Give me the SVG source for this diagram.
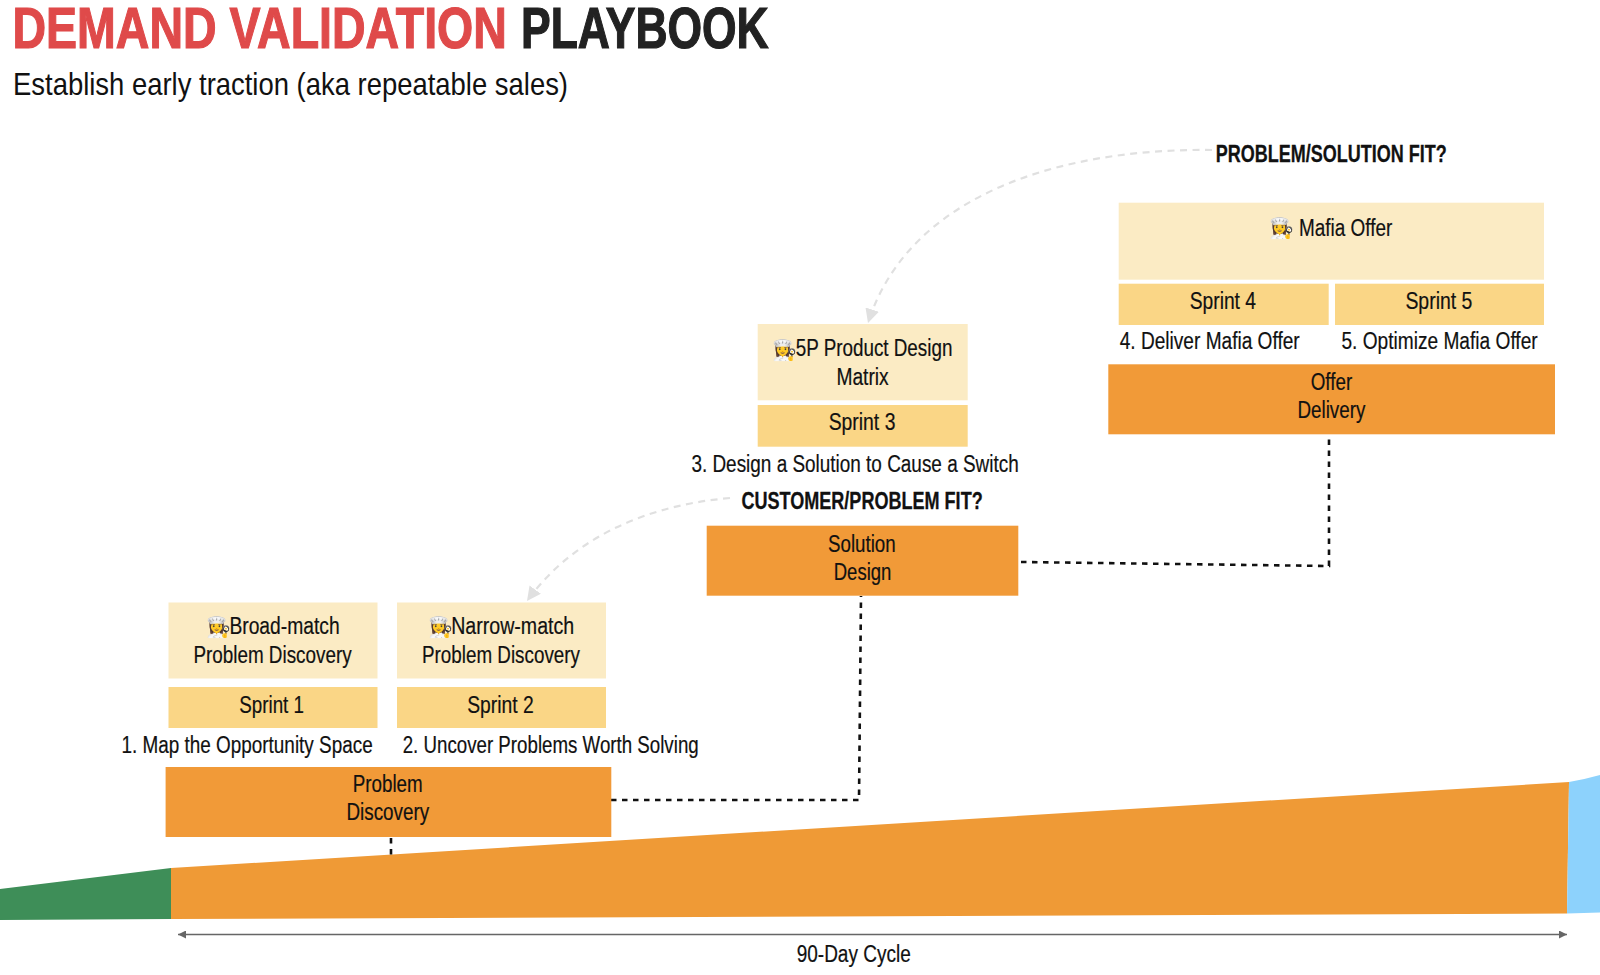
<svg xmlns="http://www.w3.org/2000/svg" width="1600" height="975" viewBox="0 0 1600 975">
<style>
text{font-family:"Liberation Sans",Arial,sans-serif;fill:#111}
.l{font-size:23.5px;stroke:#111;stroke-width:.2px;transform:translate(-.3px,.1px)}
.b{font-size:23.5px;font-weight:700;stroke:#111;stroke-width:.3px;transform:translate(-.3px,.1px)}
.e{font-size:20px;font-family:"Noto Color Emoji","Apple Color Emoji","DejaVu Sans","Noto Sans",sans-serif}
.title{font-size:58px;font-weight:700;stroke-width:1.2px}
.pale{fill:#FBEBC4}.sp{fill:#FAD686}.or{fill:#F19A38}
.dot{fill:none;stroke:#111;stroke-width:2.6;stroke-dasharray:5.5 5.5}
.soft{fill:none;stroke:#E0E0E0;stroke-width:2.2;stroke-dasharray:7 5.5}
.cyc{fill:none;stroke:#666;stroke-width:1.6}
</style>
<defs>
<marker id="g" markerUnits="userSpaceOnUse" markerWidth="16" markerHeight="16" refX="14" refY="7" orient="auto"><path d="M0 0L14 7L0 14Z" fill="#E0E0E0"/></marker>
<marker id="c" markerUnits="userSpaceOnUse" markerWidth="10" markerHeight="10" refX="8" refY="4" orient="auto"><path d="M0 0L8 4L0 8Z" fill="#666"/></marker>
<marker id="cs" markerUnits="userSpaceOnUse" markerWidth="10" markerHeight="10" refX="0" refY="4" orient="auto"><path d="M8 0L0 4L8 8Z" fill="#666"/></marker>
</defs>
<g id="header">
<text class="title" transform="translate(12.5 48) scale(.802 1)" style="fill:#DF4A4A;stroke:#DF4A4A">DEMAND VALIDATION</text>
<text class="title" transform="translate(521 48) scale(.766 1)" style="fill:#222;stroke:#222">PLAYBOOK</text>
<text x="13" y="95" style="font-size:32px" textLength="555" lengthAdjust="spacingAndGlyphs">Establish early traction (aka repeatable sales)</text>
</g>
<g id="ramp">
<path d="M0 889L171 868L171 919L0 920Z" fill="#3E8E58"/>
<path d="M171 868L1569 782L1567 913.5L171 919Z" fill="#EF9A36"/>
<path d="M1569 782Q1586 779 1600 775L1600 912.5L1567 913.5Z" fill="#8DD2FC"/>
</g>
<g id="connectors">
<path class="dot" d="M391 838V856"/>
<path class="dot" d="M611 800H859L861 596"/>
<path class="dot" d="M1021 562L1329 566V436"/>
<path class="soft" d="M1212 150C1070 148 910 190 868 323" marker-end="url(#g)"/>
<path class="soft" d="M730 498C650 505 575 535 527 601" marker-end="url(#g)"/>
<path class="cyc" d="M178 934.5H1567" marker-start="url(#cs)" marker-end="url(#c)"/>
</g>
<g id="broad-match"><rect class="pale" x="168.5" y="602.5" width="209" height="76"/><text class="e" x="206" y="634">👩‍🍳</text><text class="l" x="229.7" y="634.3" textLength="110.3" lengthAdjust="spacingAndGlyphs">Broad-match</text><text class="l" x="193.7" y="662.7" textLength="158.3" lengthAdjust="spacingAndGlyphs">Problem Discovery</text></g>
<g id="narrow-match"><rect class="pale" x="397" y="602.5" width="209" height="76"/><text class="e" x="428" y="634">👩‍🍳</text><text class="l" x="451.5" y="634.3" textLength="123" lengthAdjust="spacingAndGlyphs">Narrow-match</text><text class="l" x="422.3" y="662.7" textLength="158" lengthAdjust="spacingAndGlyphs">Problem Discovery</text></g>
<g id="sprint-1"><rect class="sp" x="168.5" y="687" width="209" height="41"/><text class="l" x="239.6" y="713" textLength="64.7" lengthAdjust="spacingAndGlyphs">Sprint 1</text></g>
<g id="sprint-2"><rect class="sp" x="397" y="687" width="209" height="41"/><text class="l" x="467.5" y="713" textLength="66.5" lengthAdjust="spacingAndGlyphs">Sprint 2</text></g>
<g id="step-1"><text class="l" x="121.7" y="752.7" textLength="251.3" lengthAdjust="spacingAndGlyphs">1. Map the Opportunity Space</text></g>
<g id="step-2"><text class="l" x="403" y="752.7" textLength="296" lengthAdjust="spacingAndGlyphs">2. Uncover Problems Worth Solving</text></g>
<g id="problem-discovery"><rect class="or" x="165.6" y="767" width="445.7" height="70"/><text class="l" x="353" y="791.7" textLength="70" lengthAdjust="spacingAndGlyphs">Problem</text><text class="l" x="346.7" y="820" textLength="82.8" lengthAdjust="spacingAndGlyphs">Discovery</text></g>
<g id="product-matrix"><rect class="pale" x="757.7" y="324" width="210" height="76.3"/><text class="e" x="772.5" y="356.5">👩‍🍳</text><text class="l" x="796" y="356.3" textLength="156.7" lengthAdjust="spacingAndGlyphs">5P Product Design</text><text class="l" x="836.7" y="384.7" textLength="52.3" lengthAdjust="spacingAndGlyphs">Matrix</text></g>
<g id="sprint-3"><rect class="sp" x="757.7" y="405" width="210" height="41.7"/><text class="l" x="829" y="430" textLength="66.7" lengthAdjust="spacingAndGlyphs">Sprint 3</text></g>
<g id="step-3"><text class="l" x="691.7" y="472" textLength="327.3" lengthAdjust="spacingAndGlyphs">3. Design a Solution to Cause a Switch</text></g>
<g id="fit-1"><text class="b" x="741.7" y="509.3" textLength="241.3" lengthAdjust="spacingAndGlyphs">CUSTOMER/PROBLEM FIT?</text></g>
<g id="solution-design"><rect class="or" x="706.7" y="525.7" width="311.6" height="70"/><text class="l" x="828.3" y="551.7" textLength="67.7" lengthAdjust="spacingAndGlyphs">Solution</text><text class="l" x="834" y="580" textLength="57.7" lengthAdjust="spacingAndGlyphs">Design</text></g>
<g id="fit-2"><text class="b" x="1216" y="162" textLength="231" lengthAdjust="spacingAndGlyphs">PROBLEM/SOLUTION FIT?</text></g>
<g id="mafia-offer"><rect class="pale" x="1118.7" y="202.7" width="425.3" height="77"/><text class="e" x="1269.5" y="235">👩‍🍳</text><text class="l" x="1299.3" y="235.7" textLength="93.4" lengthAdjust="spacingAndGlyphs">Mafia Offer</text></g>
<g id="sprint-4"><rect class="sp" x="1118.7" y="283.7" width="210" height="41.3"/><text class="l" x="1190" y="309.3" textLength="66.3" lengthAdjust="spacingAndGlyphs">Sprint 4</text></g>
<g id="sprint-5"><rect class="sp" x="1335" y="283.7" width="209" height="41.3"/><text class="l" x="1405.7" y="309.3" textLength="67" lengthAdjust="spacingAndGlyphs">Sprint 5</text></g>
<g id="step-4"><text class="l" x="1120" y="349" textLength="180" lengthAdjust="spacingAndGlyphs">4. Deliver Mafia Offer</text></g>
<g id="step-5"><text class="l" x="1341.7" y="349" textLength="196.3" lengthAdjust="spacingAndGlyphs">5. Optimize Mafia Offer</text></g>
<g id="offer-delivery"><rect class="or" x="1108.3" y="364.3" width="446.7" height="70"/><text class="l" x="1311" y="389.7" textLength="41.5" lengthAdjust="spacingAndGlyphs">Offer</text><text class="l" x="1297.7" y="418" textLength="68" lengthAdjust="spacingAndGlyphs">Delivery</text></g>
<g id="cycle-label"><text class="l" x="797" y="962" textLength="114" lengthAdjust="spacingAndGlyphs">90-Day Cycle</text></g>
</svg>
